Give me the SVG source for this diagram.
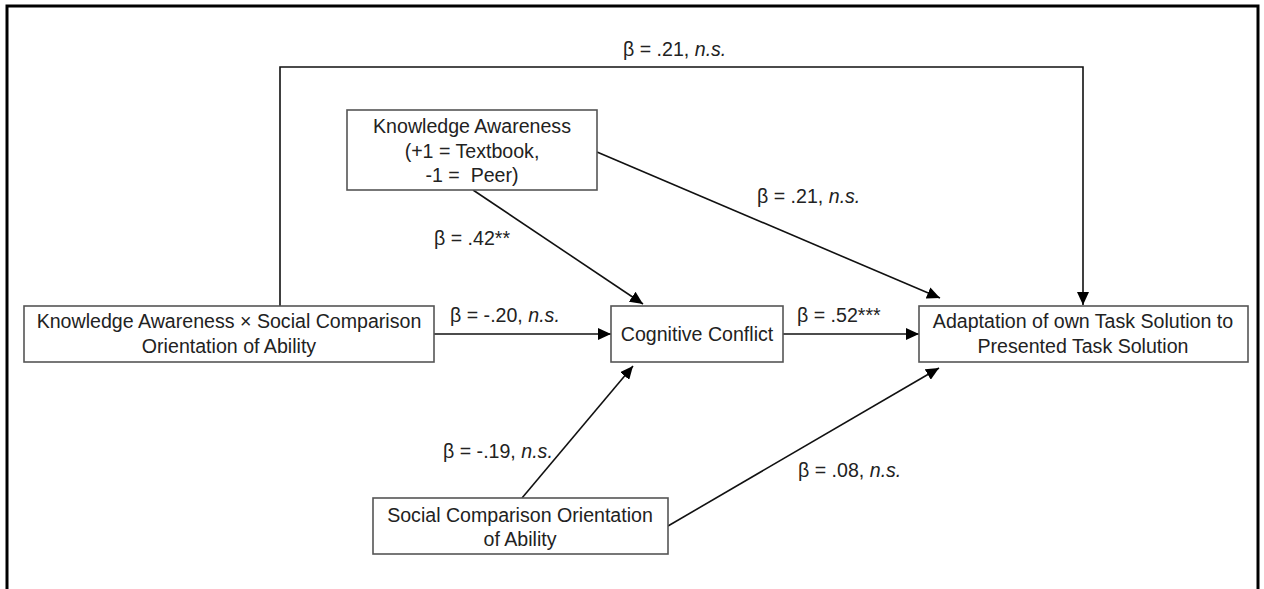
<svg xmlns="http://www.w3.org/2000/svg" width="1264" height="589" viewBox="0 0 1264 589">
<defs>
<marker id="ah" markerUnits="userSpaceOnUse" markerWidth="14" markerHeight="12" refX="13" refY="6" orient="auto">
<path d="M0,0 L13,6 L0,12 Z" fill="#000"/>
</marker>
<style>
.box{fill:#fff;stroke:#555;stroke-width:1.6}
.t{font-family:"Liberation Sans",Arial,sans-serif;font-size:19.6px;fill:#222;text-anchor:middle}
.l{font-family:"Liberation Sans",Arial,sans-serif;font-size:19.6px;fill:#222}
.c{fill:none;stroke:#111;stroke-width:1.6}
</style>
</defs>
<rect x="0" y="0" width="1264" height="589" fill="#fff"/>
<rect x="7" y="6" width="1251" height="600" fill="none" stroke="#000" stroke-width="3"/>

<g id="connectors">
<polyline class="c" points="280,306 280,67 1083,67 1083,305" marker-end="url(#ah)"/>
<line class="c" x1="597" y1="152" x2="940" y2="298" marker-end="url(#ah)"/>
<line class="c" x1="473" y1="190" x2="643" y2="304" marker-end="url(#ah)"/>
<line class="c" x1="434" y1="334" x2="611" y2="334" marker-end="url(#ah)"/>
<line class="c" x1="783" y1="334" x2="919" y2="334" marker-end="url(#ah)"/>
<line class="c" x1="522" y1="498" x2="633" y2="366" marker-end="url(#ah)"/>
<line class="c" x1="668" y1="526" x2="939" y2="368" marker-end="url(#ah)"/>
<text class="l" x="623" y="56">β = .21, <tspan font-style="italic">n.s.</tspan></text>
<text class="l" x="757" y="203">β = .21, <tspan font-style="italic">n.s.</tspan></text>
<text class="l" x="434" y="245">β = .42**</text>
<text class="l" x="450" y="322">β = -.20, <tspan font-style="italic">n.s.</tspan></text>
<text class="l" x="797" y="322">β = .52***</text>
<text class="l" x="443" y="458">β = -.19, <tspan font-style="italic">n.s.</tspan></text>
<text class="l" x="798" y="477">β = .08, <tspan font-style="italic">n.s.</tspan></text>
</g>

<g id="node-ka">
<rect class="box" x="347" y="110" width="250" height="80"/>
<text class="t" x="472" y="133">Knowledge Awareness</text>
<text class="t" x="472" y="158">(+1 = Textbook,</text>
<text class="t" x="472" y="182" xml:space="preserve">-1 =  Peer)</text>
</g>

<g id="node-kaxsco">
<rect class="box" x="24" y="306" width="410" height="56"/>
<text class="t" x="229" y="328">Knowledge Awareness × Social Comparison</text>
<text class="t" x="229" y="353">Orientation of Ability</text>
</g>

<g id="node-cc">
<rect class="box" x="611" y="306" width="172" height="56"/>
<text class="t" x="697" y="341">Cognitive Conflict</text>
</g>

<g id="node-adapt">
<rect class="box" x="919" y="306" width="329" height="56"/>
<text class="t" x="1083" y="328">Adaptation of own Task Solution to</text>
<text class="t" x="1083" y="353">Presented Task Solution</text>
</g>

<g id="node-sco">
<rect class="box" x="373" y="498" width="295" height="56"/>
<text class="t" x="520" y="522">Social Comparison Orientation</text>
<text class="t" x="520" y="546">of Ability</text>
</g>
</svg>
